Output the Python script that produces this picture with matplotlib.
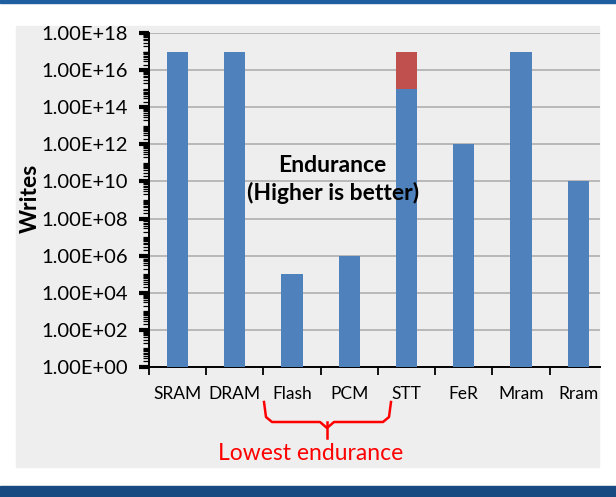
import numpy as np
import matplotlib.pyplot as plt
from matplotlib.ticker import FuncFormatter, LogLocator, FixedLocator, NullFormatter
from matplotlib.patches import Rectangle
from matplotlib.lines import Line2D

# data
categories = ["SRAM", "DRAM", "Flash", "PCM", "STT", "FeR", "Mram", "Rram"]
writes = [1e17, 1e17, 1e5, 1e6, 1e15, 1e12, 1e17, 1e10]
writes_upper = [1e17, 1e17, 1e5, 1e6, 1e17, 1e12, 1e17, 1e10]  # STT range top

plt.rcParams["font.family"] = ["Lato", "DejaVu Sans"]

fig = plt.figure(figsize=(6.16, 4.97), dpi=100)
W, H = 616, 497

def fx(px):
    return px / W

def fy(py):
    return 1 - py / H

# slide frame
fig.patches.append(Rectangle((0, fy(3)), 1, 3 / H, transform=fig.transFigure,
                             color="#1f5fa0", zorder=-5))
fig.patches.append(Rectangle((0, 0), 1, fy(486), transform=fig.transFigure,
                             color="#174a80", zorder=-5))
fig.patches.append(Rectangle((fx(16), fy(467)), fx(599) - fx(16), fy(26) - fy(467),
                             transform=fig.transFigure, color="#eeeeee", zorder=-5))

ax = fig.add_axes([fx(149), fy(367), fx(600) - fx(149), fy(33) - fy(367)])
ax.set_zorder(2)
ax.set_facecolor("none")

x = np.arange(len(categories))
ax.bar(x, writes, width=0.37, bottom=1, color="#4f81bd", zorder=3)
extra = [u - w for u, w in zip(writes_upper, writes)]
ax.bar(x, extra, width=0.37, bottom=writes, color="#c0504d", zorder=3)

ax.set_yscale("log")
ax.set_ylim(1, 1e18)
ax.set_xlim(-0.5, 7.38)
ax.yaxis.set_major_locator(FixedLocator([10.0 ** k for k in range(0, 19, 2)]))
ax.yaxis.set_minor_locator(LogLocator(base=10, subs=np.arange(1, 10), numticks=100))
ax.yaxis.set_minor_formatter(NullFormatter())
ax.yaxis.set_major_formatter(FuncFormatter(lambda v, p: f"{v:.2E}"))
ax.grid(axis="y", which="major", color="#b8b8b8", linewidth=1.4, zorder=1)

ax.set_xticks(x)
ax.set_xticklabels(categories)
ax.set_xticks(np.arange(len(categories)) - 0.5, minor=True)
ax.tick_params(axis="x", which="major", length=0, pad=14, labelsize=12.5)
ax.tick_params(axis="x", which="minor", length=6, direction="out", width=1.3)
ax.tick_params(axis="y", which="major", length=7, width=3, direction="out", labelsize=14.5, pad=8)
ax.tick_params(axis="y", which="minor", length=4, width=0.9, direction="out")

for s in ["top", "right"]:
    ax.spines[s].set_visible(False)
ax.spines["left"].set_linewidth(1.4)
ax.spines["bottom"].set_linewidth(1.4)

fig.text(fx(30), fy(198), "Writes", rotation=90, ha="center", va="center",
         fontsize=16.5, fontweight="bold")

fig.text(fx(332), fy(165), "Endurance", ha="center", va="center",
         fontsize=16.5, fontweight="bold", zorder=5)
fig.text(fx(333), fy(193), "(Higher is better)", ha="center", va="center",
         fontsize=16.5, fontweight="bold", zorder=5)

# bracket under Flash..STT
bx = [fx(264), fx(266), fx(272), fx(320), fx(327), fx(334), fx(383), fx(389), fx(391)]
by = [fy(402), fy(417), fy(422), fy(422), fy(428), fy(422), fy(422), fy(417), fy(402)]
fig.lines.append(Line2D(bx, by, transform=fig.transFigure, color="red", linewidth=1.8))
fig.lines.append(Line2D([fx(327), fx(327)], [fy(422), fy(438)], transform=fig.transFigure,
                        color="red", linewidth=1.8))
fig.text(fx(311), fy(453), "Lowest endurance", ha="center", va="center",
         fontsize=16.5, color="red")

fig.savefig("out.png", dpi=100)
